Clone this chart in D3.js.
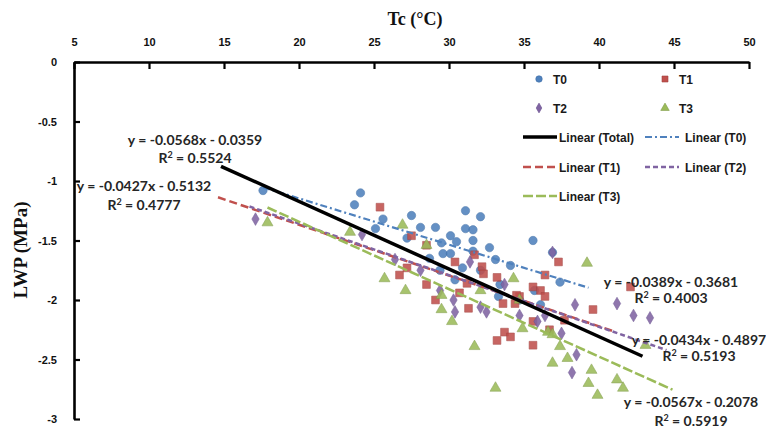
<!DOCTYPE html>
<html>
<head>
<meta charset="utf-8">
<script src="https://cdn.jsdelivr.net/npm/d3@7"></script>
<style>
  body { margin: 0; background: #fff; }
  svg { display: block; }
</style>
</head>
<body>
<svg width="766" height="428"></svg>
<script>
// canopy temperature (x) vs leaf water potential (y)
const t0X = [17.6, 24.1, 23.7, 25.6, 25.1, 27.5, 28.1, 29.1, 31.1, 32.1, 30.1, 30.5, 29.5, 31.1, 31.6, 31.6, 29.6, 30.1, 31.6, 32.7, 35.6, 36.9, 28.7, 27.2, 30.9, 32.1, 33.1, 34.1, 33.4, 35.7, 34.7, 36.1, 37.4, 33.3, 30.4, 29.4];
const t0Y = [-1.08, -1.10, -1.20, -1.32, -1.40, -1.29, -1.39, -1.39, -1.25, -1.30, -1.46, -1.51, -1.52, -1.40, -1.41, -1.50, -1.61, -1.61, -1.59, -1.56, -1.50, -1.60, -1.65, -1.48, -1.73, -1.75, -1.66, -1.71, -1.87, -1.92, -2.00, -2.04, -1.85, -1.97, -1.83, -1.75];

const t1X = [25.4, 26.7, 27.5, 28.5, 32.2, 32.3, 33.2, 37.3, 35.6, 36.1, 34.7, 36.4, 28.5, 27.2, 31.2, 30.7, 29.1, 31.3, 33.6, 34.4, 33.7, 33.2, 34.1, 35.6, 35.6, 34.5, 42.1, 39.6, 31.7, 30.4, 36.4, 37.7, 36.7];
const t1Y = [-1.22, -1.79, -1.46, -1.54, -1.72, -1.78, -1.81, -1.68, -1.89, -1.92, -1.97, -1.97, -1.87, -1.73, -1.86, -1.94, -2.00, -2.07, -2.03, -2.03, -2.27, -2.34, -2.31, -2.38, -2.18, -1.96, -1.89, -2.08, -1.62, -1.68, -1.79, -2.17, -2.25];

const t2X = [17.1, 24.2, 30.3, 30.4, 32.1, 32.5, 35.9, 37.5, 38.5, 38.2, 41.2, 42.3, 36.4, 36.9, 28.1, 29.4, 33.7, 34.7, 38.4, 43.4, 31.4, 26.4];
const t2Y = [-1.32, -1.45, -2.00, -2.10, -2.06, -2.10, -2.18, -2.28, -2.46, -2.61, -2.03, -2.13, -2.13, -1.60, -1.75, -1.92, -1.87, -2.13, -2.04, -2.15, -1.68, -1.66];

const t3X = [17.9, 25.7, 23.4, 29.5, 29.5, 30.2, 31.7, 33.1, 34.9, 36.6, 36.9, 37.4, 37.9, 39.2, 39.5, 39.3, 39.9, 41.2, 41.6, 43.1, 36.9, 26.9, 28.5, 34.3, 27.1, 34.7, 32.1];
const t3Y = [-1.35, -1.82, -1.43, -1.96, -2.08, -2.18, -2.39, -2.74, -2.24, -2.27, -2.53, -2.39, -2.49, -1.69, -2.59, -2.70, -2.80, -2.67, -2.74, -2.38, -2.29, -1.37, -1.54, -1.82, -1.92, -2.00, -1.92];

// trendlines: Total, T0, T1, T2, T3
const fitNames = ['Total', 'T0', 'T1', 'T2', 'T3'];
const fitSlope = [-0.0568, -0.0389, -0.0427, -0.0434, -0.0567];
const fitIntercept = [-0.0359, -0.3681, -0.5132, -0.4897, -0.2078];
const fitR2 = ['0.5524', '0.4003', '0.4777', '0.5193', '0.5919'];
const fitFrom = [14.8, 17.6, 14.6, 16.7, 17.9];
const fitTo = [42.9, 39.3, 41.0, 44.5, 44.9];

const xTicks = [5, 10, 15, 20, 25, 30, 35, 40, 45, 50];
const yTicks = [0, -0.5, -1, -1.5, -2, -2.5, -3];

const svg = d3.select('svg');
const x = d3.scaleLinear().domain([5, 50]).range([74, 749]);
const y = d3.scaleLinear().domain([-3, 0]).range([419, 62]);

const tickFont = 'Liberation Sans, Arial, sans-serif';
const eqFont = 'Lato, Liberation Sans, sans-serif';

// series styles
const series = [
  { name: 'T0', xs: t0X, ys: t0Y, color: '#4f81bd', edge: '#3f6ea6', shape: d3.symbolCircle, size: 55 },
  { name: 'T1', xs: t1X, ys: t1Y, color: '#c0504d', edge: '#a33f3c', shape: d3.symbolSquare, size: 60 },
  { name: 'T2', xs: t2X, ys: t2Y, color: '#8064a2', edge: '#6a5290', shape: d3.symbolDiamond, size: 46 },
  { name: 'T3', xs: t3X, ys: t3Y, color: '#9bbb59', edge: '#7f9c48', shape: d3.symbolTriangle, size: 52 }
];
const fitStyle = [
  { color: '#000', width: 3.5, dash: null },
  { color: '#4f81bd', width: 2.2, dash: '7,3,2,3' },
  { color: '#c0504d', width: 2.5, dash: '8,4' },
  { color: '#8064a2', width: 2.5, dash: '5,3' },
  { color: '#9bbb59', width: 2.5, dash: '10,3' }
];

// points
series.forEach(s => {
  svg.append('g')
    .selectAll('path')
    .data(s.xs.map((v, i) => [v, s.ys[i]]))
    .enter()
    .append('path')
    .attr('transform', d => `translate(${x(d[0])},${y(d[1])})`)
    .attr('d', d3.symbol(s.shape, s.size))
    .attr('fill', s.color)
    .attr('stroke', s.edge)
    .attr('stroke-width', 0.6)
    .attr('opacity', 0.88);
});

// trendlines (Total drawn last so it sits on top)
const order = [1, 2, 3, 4, 0];
order.forEach(i => {
  const st = fitStyle[i];
  svg.append('line')
    .attr('x1', x(fitFrom[i]))
    .attr('y1', y(fitSlope[i] * fitFrom[i] + fitIntercept[i]))
    .attr('x2', x(fitTo[i]))
    .attr('y2', y(fitSlope[i] * fitTo[i] + fitIntercept[i]))
    .attr('stroke', st.color)
    .attr('stroke-width', st.width)
    .attr('stroke-dasharray', st.dash);
});

// axes
const gx = svg.append('g')
  .attr('transform', `translate(0,${y(0)})`)
  .call(d3.axisTop(x).tickValues(xTicks).tickSize(-7).tickSizeOuter(0).tickPadding(16).tickFormat(d => String(d)));
const gy = svg.append('g')
  .attr('transform', `translate(${x(5)},0)`)
  .call(d3.axisLeft(y).tickValues(yTicks).tickSize(-6).tickSizeOuter(0).tickPadding(17).tickFormat(d => String(d)));

[gx, gy].forEach(g => {
  g.select('.domain').attr('stroke', '#000').attr('stroke-width', 2.6);
  g.selectAll('.tick line').attr('stroke', '#000').attr('stroke-width', 2.2);
  g.selectAll('.tick text')
    .attr('fill', '#111')
    .style('font-family', tickFont)
    .style('font-size', '11px')
    .style('font-weight', 'bold');
});

// axis titles
svg.append('text')
  .attr('x', 415).attr('y', 25)
  .attr('text-anchor', 'middle')
  .style('font-family', 'Liberation Serif, Times New Roman, serif')
  .style('font-weight', 'bold')
  .style('font-size', '18px')
  .attr('fill', '#111')
  .text('Tc (°C)');

svg.append('text')
  .attr('transform', 'translate(27,250) rotate(-90)')
  .attr('text-anchor', 'middle')
  .style('font-family', 'Liberation Serif, Times New Roman, serif')
  .style('font-weight', 'bold')
  .style('font-size', '19px')
  .attr('fill', '#111')
  .text('LWP (MPa)');

// trendline equations
const eqX = [195, 671, 144, 699, 691];
const eqY = [140, 282, 186, 340, 402];
const r2Y = [158, 298, 205, 356, 421];
const fmt4 = d3.format('.4f');
fitNames.forEach((n, i) => {
  const b = fitIntercept[i];
  svg.append('text')
    .attr('x', eqX[i]).attr('y', eqY[i] + 5)
    .attr('text-anchor', 'middle')
    .style('font-family', eqFont).style('font-size', '14px').style('font-weight', 'bold')
    .attr('fill', '#262626')
    .text(`y = -${fmt4(-fitSlope[i])}x ${b < 0 ? '-' : '+'} ${fmt4(Math.abs(b))}`);
  const r = svg.append('text')
    .attr('x', eqX[i]).attr('y', r2Y[i] + 5)
    .attr('text-anchor', 'middle')
    .style('font-family', eqFont).style('font-size', '14px').style('font-weight', 'bold')
    .attr('fill', '#262626');
  r.append('tspan').text('R');
  r.append('tspan').attr('dy', -5).style('font-size', '9px').text('2');
  r.append('tspan').attr('dy', 5).text(` = ${fitR2[i]}`);
});

// legend
const legend = svg.append('g')
  .style('font-family', tickFont).style('font-size', '12px').style('font-weight', 'bold');
const legMarks = [[539, 79], [665, 79], [539, 108], [665, 108]];
series.forEach((s, i) => {
  const [lx, ly] = legMarks[i];
  legend.append('path')
    .attr('transform', `translate(${lx},${ly})`)
    .attr('d', d3.symbol(s.shape, s.size * 0.6))
    .attr('fill', s.color).attr('stroke', s.edge).attr('stroke-width', 0.6);
  legend.append('text').attr('x', lx + 14).attr('y', ly + 4.5).attr('fill', '#1a1a1a').text(s.name);
});
const legLines = [[523, 137], [645, 137], [523, 167], [645, 167], [523, 196]];
fitNames.forEach((n, k) => {
  const [lx, ly] = legLines[k];
  const st = fitStyle[k];
  legend.append('line')
    .attr('x1', lx).attr('x2', lx + 34).attr('y1', ly).attr('y2', ly)
    .attr('stroke', st.color).attr('stroke-width', st.width)
    .attr('stroke-dasharray', st.dash);
  legend.append('text').attr('x', lx + (k % 2 ? 40 : 36)).attr('y', ly + 4.5).attr('fill', '#1a1a1a')
    .text(`Linear (${n})`);
});
</script>
</body>
</html>
